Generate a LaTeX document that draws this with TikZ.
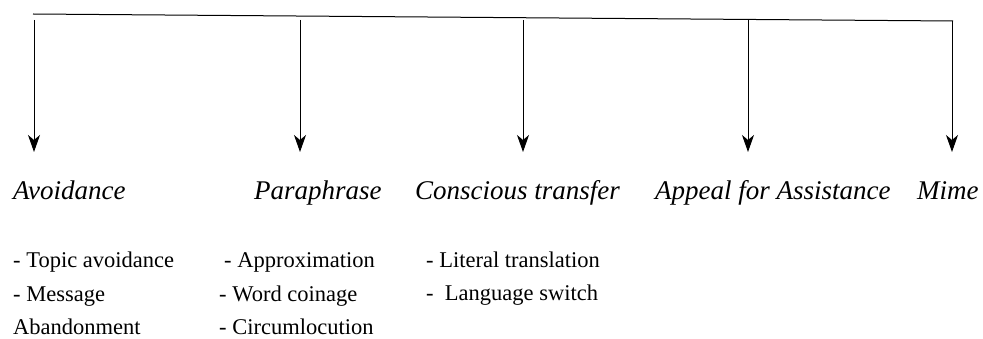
\documentclass[tikz,border=0pt]{standalone}
\usepackage{fontspec}
\setmainfont{Liberation Serif}
\usetikzlibrary{arrows.meta}

\tikzset{
  head/.style  = {font=\fontsize{27}{30}\selectfont\itshape, inner sep=0pt, anchor=base west},
  items/.style = {font=\fontsize{22.5}{33.5}\selectfont, inner sep=0pt, anchor=base west, align=left},
  down/.style  = {-{Stealth[length=17pt, width=12pt, inset=5pt]}, line width=1pt}
}

\begin{document}
\begin{tikzpicture}[x=1pt, y=1pt]
    \useasboundingbox (0,0) rectangle (983,-339);
    % the bar on top
    \coordinate (left)   at ( 33,-14);
    \coordinate (right)  at (953,-21);
    % where each arrow leaves the bar and where it stops
    \coordinate (avoidtop)  at ( 34,-20);
    \coordinate (paratop)   at (300,-20);
    \coordinate (transtop)  at (523,-20);
    \coordinate (appealtop) at (748,-20);
    \coordinate (mimetop)   at (952,-21);
    \coordinate (avoidend)  at ( 34,-152);
    \coordinate (paraend)   at (300,-152);
    \coordinate (transend)  at (523,-152);
    \coordinate (appealend) at (748,-152);
    \coordinate (mimeend)   at (952,-152);
    % strategies
    \node[head] (avoid)  at ( 13,-200) {Avoidance};
    \node[head] (para)   at (254,-200) {Paraphrase};
    \node[head] (trans)  at (415,-200) {Conscious transfer};
    \node[head] (appeal) at (655,-200) {Appeal for Assistance};
    \node[head] (mime)   at (917,-200) {Mime};
    % sub-strategies (base is the last line)
    \node[items] (avoidlist) at ( 13,-334.5) {- Topic avoidance\\- Message\\Abandonment};
    \node[items] (paralist)  at (219,-334.5) {\hspace{5pt}- Approximation\\- Word coinage\\- Circumlocution};
    \node[items] (translist) at (426,-301)   {- Literal translation\\-~ Language switch};
    \draw[line width=1pt] (left) -- (right);
    \draw[down] (avoidtop)  -- (avoidend);
    \draw[down] (paratop)   -- (paraend);
    \draw[down] (transtop)  -- (transend);
    \draw[down] (appealtop) -- (appealend);
    \draw[down] (mimetop)   -- (mimeend);
\end{tikzpicture}
\end{document}
